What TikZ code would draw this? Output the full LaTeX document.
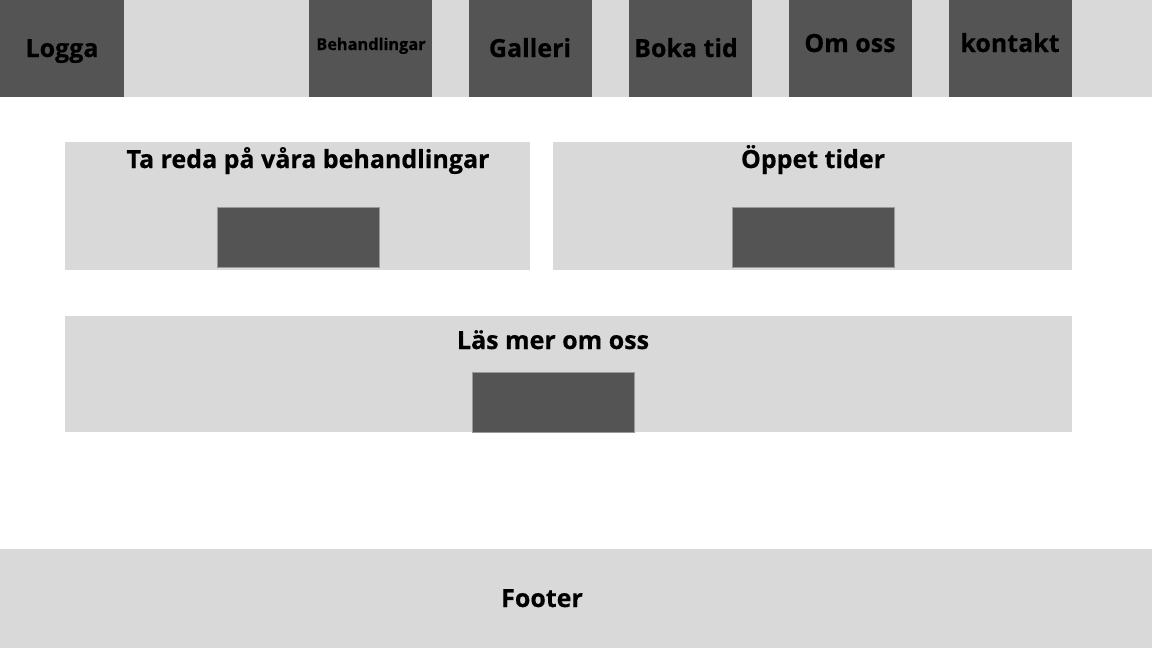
\documentclass[tikz,border=0pt]{standalone}
\usepackage{fontspec}
\setmainfont{Open Sans}[BoldFeatures={FakeBold=0.5}]
\definecolor{light}{HTML}{D9D9D9}
\definecolor{dark}{HTML}{545454}
\tikzset{
  lightbox/.style={fill=light, draw=none},
  darkbox/.style={fill=dark, draw=none},
  btn/.style={fill=dark, draw=gray!80, line width=0.6pt},
  lbl/.style={font=\bfseries\fontsize{25}{28}\selectfont, text=black, inner sep=0pt, anchor=base},
  smalllbl/.style={font=\bfseries\fontsize{16.3}{18}\selectfont, text=black, inner sep=0pt, anchor=base}
}
\begin{document}
\begin{tikzpicture}[x=1pt,y=-1pt]
\useasboundingbox (0,0) rectangle (1152,648);
\fill[white] (0,0) rectangle (1152,648);
% header
\path[lightbox] (0,0) rectangle (1152,97);
\path[darkbox] (0,0) rectangle (124,97);
\path[darkbox] (309,0) rectangle (432,97);
\path[darkbox] (469,0) rectangle (592,97);
\path[darkbox] (629,0) rectangle (752,97);
\path[darkbox] (789,0) rectangle (912,97);
\path[darkbox] (949,0) rectangle (1072,97);
\node[lbl] (logga) at (62,57) {Logga};
\node[smalllbl] (beh) at (371,50) {Behandlingar};
\node[lbl] (gal) at (530,57) {Galleri};
\node[lbl] (boka) at (686,57) {Boka tid};
\node[lbl] (om) at (850,52) {Om oss};
\node[lbl] (kon) at (1010,52) {kontakt};
% panels
\path[lightbox] (65,142) rectangle (530,270);
\path[lightbox] (553,142) rectangle (1072,270);
\path[btn] (217,207) rectangle (379,267);
\path[btn] (732,207) rectangle (894,267);
\node[lbl] (t1) at (308,168) {Ta reda på våra behandlingar};
\node[lbl] (t2) at (813,168) {Öppet tider};
\path[lightbox] (65,316) rectangle (1072,432);
\path[btn] (472,372) rectangle (634,432);
\node[lbl] (t3) at (553,349) {Läs mer om oss};
% footer
\path[lightbox] (0,549) rectangle (1152,648);
\node[lbl] (foot) at (542,607) {Footer};
\end{tikzpicture}
\end{document}
